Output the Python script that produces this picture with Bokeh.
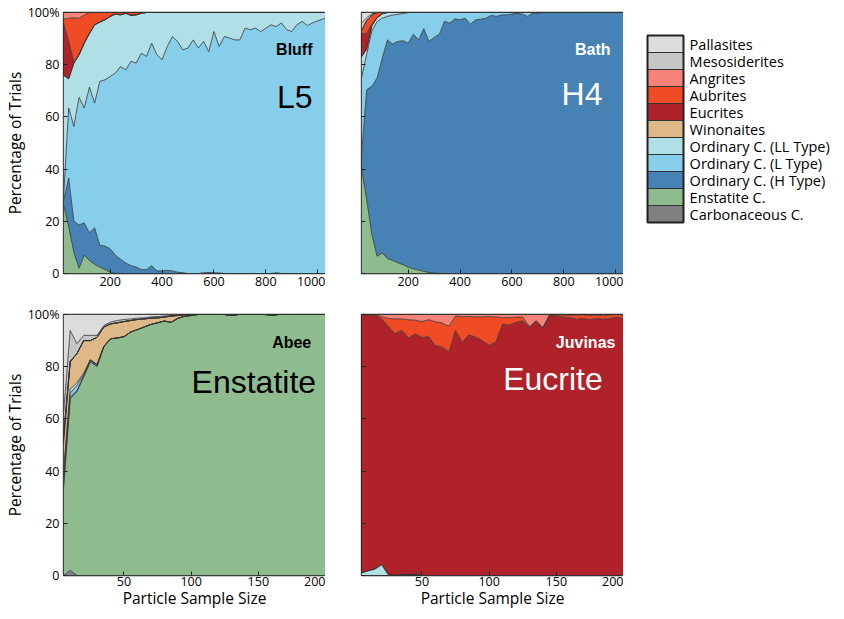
from bokeh.plotting import figure
from bokeh.models import (Range1d, FixedTicker, Label,
                          CustomJSTickFormatter, ColumnDataSource)
from bokeh.layouts import row, column
from bokeh.core.properties import value
from bokeh.embed import file_html
from bokeh.resources import INLINE

# ---------------- categories (stack order, bottom -> top) ----------------
categories = ["Carbonaceous C.", "Enstatite C.", "Ordinary C. (H Type)",
              "Ordinary C. (L Type)", "Ordinary C. (LL Type)", "Winonaites",
              "Eucrites", "Aubrites", "Angrites", "Mesosiderites", "Pallasites"]
keys = ["carb", "enst", "h", "l", "ll", "win", "euc", "aub", "ang", "meso", "pall"]
colors = ["#808082", "#8fbc8f", "#4682b4", "#87ceeb", "#b0e0e6", "#deb887",
          "#b02229", "#ef4b24", "#f5837a", "#c6c6c8", "#dcdcde"]

# ---------------- sample sizes ----------------
top_x = list(range(20, 1001, 20)) + [1030]      # 51 sample sizes
bottom_x = list(range(5, 201, 5))               # 40 sample sizes
top_ticks = [200, 400, 600, 800, 1000]
bottom_ticks = [50, 100, 150, 200]
y_ticks = [0, 20, 40, 60, 80, 100]

# ---------------- Bluff (L5) ----------------
bluff_carb = [0] * 51
bluff_enst = [26.4, 18, 8, 2, 7, 5, 3.5, 2.5, 1.5, 0.5,
              0, 0, 0, 0, 0, 0, 0, 0, 0, 0,
              0, 0, 0, 0, 0, 0, 0, 0, 0, 0,
              0, 0, 0, 0, 0, 0, 0, 0, 0, 0,
              0, 0, 0, 0, 0, 0, 0, 0, 0, 0,
              0]
bluff_h = [1.3, 18.6, 12, 16.6, 12.4, 10.6, 14, 8.3, 9, 9,
           7, 5.5, 4, 3, 2.5, 1.5, 1.5, 3, 1, 1,
           1.2, 1, 0.5, 0.3, 0, 0, 0, 0.3, 0.4, 0.3,
           0.2, 0, 0, 0, 0, 0, 0, 0, 0, 0,
           0, 0.3, 0, 0, 0, 0, 0, 0, 0, 0,
           0]
bluff_l = [1.3, 26.8, 36.4, 48.9, 44, 55.8, 47.8, 62.8, 63.7, 66,
           69.8, 73.8, 74, 78.3, 78.1, 82.9, 81.7, 85.3, 82.8, 80.9,
           85.8, 89.8, 88.4, 85.4, 86.4, 89.5, 86.4, 88.6, 84.6, 92.4,
           86.8, 90.8, 90.2, 89.5, 89.5, 94, 93.4, 94, 92.7, 94,
           95.3, 94.3, 96, 93.4, 92.7, 95.3, 96.6, 95, 96, 96.8,
           97.8]
bluff_ll = [47, 11.2, 24.2, 16.3, 24.9, 20.6, 30, 22.7, 23, 23,
            22.6, 19.8, 21.7, 17.6, 18.5, 15.3, 16.8, 11.7, 16.2, 18.1,
            13, 9.2, 11.1, 14.3, 13.6, 10.5, 13.6, 11.1, 15, 7.3,
            13, 9.2, 9.8, 10.5, 10.5, 6, 6.6, 6, 7.3, 6,
            4.7, 5.4, 4, 6.6, 7.3, 4.7, 3.4, 5, 4, 3.2,
            2.2]
bluff_win = [0] * 51
bluff_euc = [20, 14.4, 0.4, 0, 0, 0, 0, 0, 0, 0,
             0, 0, 0, 0, 0, 0, 0, 0, 0, 0,
             0, 0, 0, 0, 0, 0, 0, 0, 0, 0,
             0, 0, 0, 0, 0, 0, 0, 0, 0, 0,
             0, 0, 0, 0, 0, 0, 0, 0, 0, 0,
             0]
bluff_aub = [1.5, 8.8, 17, 14, 10.7, 8, 4.7, 3.7, 2.8, 1.5,
             0.6, 0.9, 0.3, 1.1, 0.9, 0.3, 0, 0, 0, 0,
             0, 0, 0, 0, 0, 0, 0, 0, 0, 0,
             0, 0, 0, 0, 0, 0, 0, 0, 0, 0,
             0, 0, 0, 0, 0, 0, 0, 0, 0, 0,
             0]
bluff_ang = [2.5, 2.2, 2, 2.2, 1, 0, 0, 0, 0, 0,
             0, 0, 0, 0, 0, 0, 0, 0, 0, 0,
             0, 0, 0, 0, 0, 0, 0, 0, 0, 0,
             0, 0, 0, 0, 0, 0, 0, 0, 0, 0,
             0, 0, 0, 0, 0, 0, 0, 0, 0, 0,
             0]
bluff_meso = [0] * 51
bluff_pall = [0] * 51

# ---------------- Bath (H4) ----------------
bath_carb = [0] * 51
bath_enst = [40.4, 28.3, 15, 6.6, 7.9, 5.7, 5, 4.1, 3.4, 2.4,
             1.8, 1.3, 0.8, 0.4, 0.2, 0, 0, 0, 0, 0,
             0, 0, 0, 0, 0, 0, 0, 0, 0, 0,
             0, 0, 0, 0, 0, 0, 0, 0, 0, 0,
             0, 0, 0, 0, 0, 0, 0, 0, 0, 0,
             0]
bath_h = [5.1, 42.1, 56.7, 68.3, 74.6, 83.8, 82.9, 84.8, 85.8, 85.9,
          89.9, 88.2, 93, 88.5, 90.2, 91.7, 96.6, 95.9, 97.6, 97.2,
          97.8, 95.5, 97.2, 97.4, 97.8, 98.9, 98.5, 99.1, 99.1, 99.4,
          99.7, 99.4, 98.5, 99.7, 99.7, 100, 100, 100, 100, 100,
          100, 100, 100, 100, 100, 100, 100, 100, 100, 100,
          100]
bath_l = [29.5, 13.6, 21.3, 21.6, 15.3, 9, 11.1, 10.4, 10.4, 11.7,
          8.3, 10.5, 6.2, 11.1, 9.6, 8.3, 3.4, 4.1, 2.4, 2.8,
          2.2, 4.5, 2.8, 2.6, 2.2, 1.1, 1.5, 0.9, 0.9, 0.6,
          0.3, 0.6, 1.5, 0.3, 0.3, 0, 0, 0, 0, 0,
          0, 0, 0, 0, 0, 0, 0, 0, 0, 0,
          0]
bath_ll = [8, 2, 2, 1.5, 1.7, 1.5, 1, 0.7, 0.4, 0,
           0, 0, 0, 0, 0, 0, 0, 0, 0, 0,
           0, 0, 0, 0, 0, 0, 0, 0, 0, 0,
           0, 0, 0, 0, 0, 0, 0, 0, 0, 0,
           0, 0, 0, 0, 0, 0, 0, 0, 0, 0,
           0]
bath_win = [0] * 51
bath_euc = [9, 6, 0.5, 0, 0, 0, 0, 0, 0, 0,
            0, 0, 0, 0, 0, 0, 0, 0, 0, 0,
            0, 0, 0, 0, 0, 0, 0, 0, 0, 0,
            0, 0, 0, 0, 0, 0, 0, 0, 0, 0,
            0, 0, 0, 0, 0, 0, 0, 0, 0, 0,
            0]
bath_aub = [1, 5, 3.5, 2, 0.5, 0, 0, 0, 0, 0,
            0, 0, 0, 0, 0, 0, 0, 0, 0, 0,
            0, 0, 0, 0, 0, 0, 0, 0, 0, 0,
            0, 0, 0, 0, 0, 0, 0, 0, 0, 0,
            0, 0, 0, 0, 0, 0, 0, 0, 0, 0,
            0]
bath_ang = [0] * 51
bath_meso = [3, 1, 0.5, 0, 0, 0, 0, 0, 0, 0,
             0, 0, 0, 0, 0, 0, 0, 0, 0, 0,
             0, 0, 0, 0, 0, 0, 0, 0, 0, 0,
             0, 0, 0, 0, 0, 0, 0, 0, 0, 0,
             0, 0, 0, 0, 0, 0, 0, 0, 0, 0,
             0]
bath_pall = [4, 2, 0.5, 0, 0, 0, 0, 0, 0, 0,
             0, 0, 0, 0, 0, 0, 0, 0, 0, 0,
             0, 0, 0, 0, 0, 0, 0, 0, 0, 0,
             0, 0, 0, 0, 0, 0, 0, 0, 0, 0,
             0, 0, 0, 0, 0, 0, 0, 0, 0, 0,
             0]

# ---------------- Abee (Enstatite) ----------------
abee_carb = [0, 2, 0, 0, 0, 0, 0, 0, 0, 0,
             0, 0, 0, 0, 0, 0, 0, 0, 0, 0,
             0, 0, 0, 0, 0, 0, 0, 0, 0, 0,
             0, 0, 0, 0, 0, 0, 0, 0, 0, 0]
abee_enst = [33, 65.8, 70.4, 76, 81.8, 80, 87.5, 90.7, 91, 91.5,
             93.3, 94.2, 95.2, 96.2, 96.8, 97.5, 97, 98.5, 99.3, 99.6,
             100, 100, 100, 100, 100, 99.7, 100, 100, 100, 100,
             100, 99.8, 100, 100, 100, 100, 100, 100, 100, 100]
abee_h = [2, 0.5, 0.5, 0.5, 0.8, 0.8, 0.3, 0, 0, 0,
          0, 0, 0, 0, 0, 0, 0, 0, 0, 0,
          0, 0, 0, 0, 0, 0, 0, 0, 0, 0,
          0, 0, 0, 0, 0, 0, 0, 0, 0, 0]
abee_l = [3, 1.5, 2, 0.5, 0, 0, 0, 0, 0, 0,
          0, 0, 0, 0, 0, 0, 0, 0, 0, 0,
          0, 0, 0, 0, 0, 0, 0, 0, 0, 0,
          0, 0, 0, 0, 0, 0, 0, 0, 0, 0]
abee_ll = [2, 1.5, 1, 0.5, 0, 0, 0, 0, 0, 0,
           0, 0, 0, 0, 0, 0, 0, 0, 0, 0,
           0, 0, 0, 0, 0, 0, 0, 0, 0, 0,
           0, 0, 0, 0, 0, 0, 0, 0, 0, 0]
abee_win = [10, 10.5, 11.1, 12.5, 7.4, 10.5, 7.4, 5.7, 5.8, 5.8,
            4.4, 3.9, 3.1, 2.4, 1.9, 1.5, 2.4, 1.1, 0.6, 0.4,
            0, 0, 0, 0, 0, 0, 0, 0, 0, 0,
            0, 0, 0, 0, 0, 0, 0, 0, 0, 0]
abee_euc = [3, 0.3, 0, 0, 0, 0, 0, 0, 0, 0,
            0, 0, 0, 0, 0, 0, 0, 0, 0, 0,
            0, 0, 0, 0, 0, 0, 0, 0, 0, 0,
            0, 0, 0, 0, 0, 0, 0, 0, 0, 0]
abee_aub = [0] * 40
abee_ang = [0] * 40
abee_meso = [9, 11.8, 3.8, 2, 2, 0.7, 0.6, 0.7, 0.9, 0.8,
             0.6, 0.5, 0.4, 0.5, 0.5, 0.4, 0.2, 0.3, 0.1, 0,
             0, 0, 0, 0, 0, 0, 0, 0, 0, 0,
             0, 0, 0, 0, 0, 0, 0, 0, 0, 0]
abee_pall = [38, 6.1, 11.2, 8, 8, 8, 4.2, 2.9, 2.3, 1.9,
             1.7, 1.4, 1.3, 0.9, 0.8, 0.6, 0.4, 0.1, 0, 0,
             0, 0, 0, 0, 0, 0.3, 0, 0, 0, 0,
             0, 0.2, 0, 0, 0, 0, 0, 0, 0, 0]

# ---------------- Juvinas (Eucrite) ----------------
juv_carb = [0] * 40
juv_enst = [0] * 40
juv_h = [0, 0, 0, 0, 0, 0, 0.2, 0.3, 0.3, 0,
         0, 0, 0, 0, 0, 0, 0, 0, 0, 0,
         0, 0, 0, 0, 0, 0, 0, 0, 0, 0,
         0, 0, 0, 0, 0, 0, 0, 0, 0, 0]
juv_l = [0] * 40
juv_ll = [1, 1.8, 2.5, 4.2, 0.3, 0, 0, 0, 0, 0,
          0, 0, 0, 0, 0, 0, 0, 0, 0, 0,
          0, 0, 0, 0, 0, 0, 0, 0, 0, 0,
          0, 0, 0, 0, 0, 0, 0, 0, 0, 0]
juv_win = [0] * 40
juv_euc = [99, 98, 97, 94.2, 95.2, 92.6, 93.8, 90.7, 92.3, 91.2,
           91.5, 88, 87.5, 85.6, 93.9, 89.4, 92.2, 91.3, 90, 88.2,
           89.5, 96.4, 96, 97, 97.6, 95, 97.5, 94.7, 99.6, 99.5,
           99, 98.8, 98.2, 98.5, 98, 98.6, 98.2, 98.5, 99, 98.5]
juv_aub = [0, 0.2, 0.4, 0.8, 3, 5.7, 4.3, 7, 5.2, 6.1,
           6.5, 9.2, 9.3, 9.9, 5.5, 9.8, 7, 7.8, 9.1, 11,
           9.6, 2.4, 2.8, 2, 1.4, 0.3, 0.1, 0.3, 0.4, 0.4,
           0.9, 0.9, 1.6, 1.4, 1.6, 1.2, 1.3, 1.3, 1, 1.2]
juv_ang = [0, 0, 0.1, 0.8, 1.5, 1.7, 1.7, 2, 2.2, 2.7,
           2, 2.8, 3.2, 4.5, 0.6, 0.8, 0.8, 0.9, 0.9, 0.8,
           0.9, 1.2, 1.2, 1, 1, 4.7, 2.4, 5, 0, 0.1,
           0.1, 0.3, 0.2, 0.1, 0.4, 0.2, 0.5, 0.2, 0, 0.3]
juv_meso = [0] * 40
juv_pall = [0] * 40

bluff = [bluff_carb, bluff_enst, bluff_h, bluff_l, bluff_ll, bluff_win,
         bluff_euc, bluff_aub, bluff_ang, bluff_meso, bluff_pall]
bath = [bath_carb, bath_enst, bath_h, bath_l, bath_ll, bath_win,
        bath_euc, bath_aub, bath_ang, bath_meso, bath_pall]
abee = [abee_carb, abee_enst, abee_h, abee_l, abee_ll, abee_win,
        abee_euc, abee_aub, abee_ang, abee_meso, abee_pall]
juvinas = [juv_carb, juv_enst, juv_h, juv_l, juv_ll, juv_win,
           juv_euc, juv_aub, juv_ang, juv_meso, juv_pall]

# annotation texts: (x, y, text, size, bold, color)
bluff_notes = [(980, 85.9, "Bluff", "16px", True, "black"),
               (980, 67.6, "L5", "32px", False, "black")]
bath_notes = [(980, 85.9, "Bath", "16px", True, "white"),
              (949, 68.7, "H4", "32px", False, "white")]
abee_notes = [(189.4, 89.3, "Abee", "16px", True, "black"),
              (193, 74.0, "Enstatite", "32px", False, "black")]
juv_notes = [(194, 89.3, "Juvinas", "16px", True, "white"),
             (184.6, 75.2, "Eucrite", "32px", False, "white")]

FONT = "Open Sans"
FW = 262          # frame width
FH = 261          # frame height
TOP1, BOT1 = 12, 22
TOP2, BOT2 = 19, 36
LEFT_LAB = 58
blank = CustomJSTickFormatter(code="return ''")


def style_axis(ax):
    ax.major_tick_in = 4
    ax.major_tick_out = 0
    ax.minor_tick_line_color = None
    ax.axis_line_color = None
    ax.major_tick_line_color = "#222222"
    ax.major_label_text_font = FONT
    ax.major_label_text_font_size = "12.5px"
    ax.major_label_text_color = "black"


def make_panel(x, series, xr, xticks, left_labels, bottom_title,
               mb_left, mb_top, mb_bottom, xstand, notes):
    for s in series:
        assert len(s) == len(x)
    p = figure(frame_width=FW, frame_height=FH,
               x_range=Range1d(*xr), y_range=Range1d(0, 100),
               min_border_left=mb_left, min_border_right=0,
               min_border_top=mb_top, min_border_bottom=mb_bottom,
               output_backend="svg", toolbar_location=None)
    p.title = None
    data = {"x": x}
    for k, s in zip(keys, series):
        data[k] = s
    src = ColumnDataSource(data)
    p.varea_stack(stackers=keys, x="x", fill_color=colors, source=src)
    p.vline_stack(stackers=keys, x="x", line_color="#333333",
                  line_width=0.8, source=src)

    p.xgrid.visible = False
    p.ygrid.visible = False
    p.xaxis.ticker = FixedTicker(ticks=xticks)
    p.yaxis.ticker = FixedTicker(ticks=y_ticks)
    for ax in p.axis:
        style_axis(ax)
    p.xaxis.major_label_standoff = xstand
    if left_labels:
        p.yaxis.major_label_overrides = {100: "100%"}
        p.yaxis.major_label_standoff = 4
        p.yaxis.axis_label = "Percentage of Trials"
        p.yaxis.axis_label_standoff = -1
        p.yaxis.axis_label_text_font = FONT
        p.yaxis.axis_label_text_font_style = "normal"
        p.yaxis.axis_label_text_font_size = "15.5px"
        p.yaxis.axis_label_text_color = "black"
    else:
        p.yaxis.formatter = blank
    if bottom_title:
        p.xaxis.axis_label = "Particle Sample Size"
        p.xaxis.axis_label_standoff = -2
        p.xaxis.axis_label_text_font = FONT
        p.xaxis.axis_label_text_font_style = "normal"
        p.xaxis.axis_label_text_font_size = "15.5px"
        p.xaxis.axis_label_text_color = "black"

    p.outline_line_color = "#222222"
    p.outline_line_width = 1.3
    p.outline_line_alpha = 1.0

    for tx, ty, txt, size, bold, col in notes:
        p.add_layout(Label(x=tx, y=ty, text=txt, text_align="right",
                           text_baseline="alphabetic",
                           text_font="Liberation Sans",
                           text_font_size=size,
                           text_font_style="bold" if bold else "normal",
                           text_color=col))
    return p


tl = make_panel(top_x, bluff, (20, 1030), top_ticks, True, False,
                LEFT_LAB, TOP1, BOT1, 3, bluff_notes)
tr = make_panel(top_x, bath, (20, 1030), top_ticks, False, False,
                36, TOP1, BOT1, 3, bath_notes)
bl = make_panel(bottom_x, abee, (5, 200), bottom_ticks, True, True,
                LEFT_LAB, TOP2, BOT2, 1, abee_notes)
br = make_panel(bottom_x, juvinas, (5, 200), bottom_ticks, False, True,
                36, TOP2, BOT2, 1, juv_notes)

# ---------------- legend (same frame geometry as the top row) ----------------
n = len(categories)
SW = 36.0   # swatch width, px
SH = 17.0   # swatch height, px
leg = figure(frame_width=186, frame_height=FH,
             x_range=Range1d(-2 / SW, 184 / SW),
             y_range=Range1d(-(FH - 23 - n * SH) / SH, n + 23 / SH),
             min_border_left=22, min_border_right=0,
             min_border_top=TOP1, min_border_bottom=BOT1,
             output_backend="svg", toolbar_location=None)
leg.title = None
leg.axis.visible = False
leg.grid.visible = False
leg.outline_line_color = None
ys = [i + 0.5 for i in range(n)]
leg.hbar(y=ys, left=0, right=1, height=1, fill_color=colors,
         line_color="#333333", line_width=1)
leg.quad(left=[0], right=[1], bottom=[0], top=[n], fill_color=None,
         line_color="#222222", line_width=2)
leg.text(x=[1.17] * n, y=ys, text=categories, text_font=value(FONT),
         text_font_size="14.5px", text_baseline="middle", text_color="black")

layout = column(row(tl, tr, leg), row(bl, br))
open("out.html", "w").write(file_html(layout, INLINE))
